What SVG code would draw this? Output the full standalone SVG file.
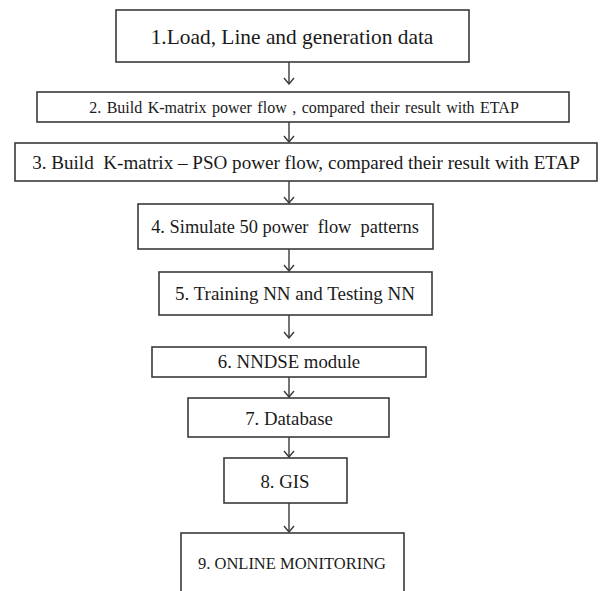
<svg xmlns="http://www.w3.org/2000/svg" width="601" height="591" viewBox="0 0 601 591">
  <style>
    .box { fill: #ffffff; stroke: #3a3a3a; stroke-width: 1.6; }
    .lbl { font-family: "Liberation Serif", "Times New Roman", serif; fill: #1a1a1a; text-anchor: middle; }
    .conn { stroke: #3a3a3a; stroke-width: 1.4; fill: none; marker-end: url(#arrow); }
  </style>
  <defs>
    <!-- open V head, drawn pointing along +x so orient="auto" follows the line -->
    <marker id="arrow" viewBox="0 0 12 12" refX="11" refY="6" markerWidth="12" markerHeight="12" markerUnits="userSpaceOnUse" orient="auto">
      <polyline points="5,1 11,6 5,11" fill="none" stroke="#3a3a3a" stroke-width="1.4"/>
    </marker>
  </defs>
  <rect width="601" height="591" fill="#ffffff"/>

  <g id="connectors">
    <line class="conn" x1="289" y1="62" x2="289" y2="84"/>
    <line class="conn" x1="289" y1="122" x2="289" y2="142"/>
    <line class="conn" x1="289" y1="181" x2="289" y2="203"/>
    <line class="conn" x1="289" y1="249" x2="289" y2="271"/>
    <line class="conn" x1="289" y1="315" x2="289" y2="338"/>
    <line class="conn" x1="289" y1="377" x2="289" y2="397"/>
    <line class="conn" x1="289" y1="437" x2="289" y2="457"/>
    <line class="conn" x1="289" y1="503" x2="289" y2="532"/>
  </g>

  <g id="n1">
    <rect class="box" x="116" y="10" width="353" height="52"/>
    <text class="lbl" x="292" y="44" font-size="21.4">1.Load, Line and generation data</text>
  </g>
  <g id="n2">
    <rect class="box" x="37" y="92" width="532" height="30"/>
    <text class="lbl" x="304" y="112.5" font-size="16" word-spacing="1.5">2. Build K-matrix power flow , compared their result with ETAP</text>
  </g>
  <g id="n3">
    <rect class="box" x="15" y="143" width="582" height="38"/>
    <text class="lbl" x="306" y="169" font-size="19.1" xml:space="preserve">3. Build  K-matrix – PSO power flow, compared their result with ETAP</text>
  </g>
  <g id="n4">
    <rect class="box" x="138" y="204" width="295" height="45"/>
    <text class="lbl" x="285" y="233" font-size="18.4" xml:space="preserve">4. Simulate 50 power  flow  patterns</text>
  </g>
  <g id="n5">
    <rect class="box" x="159" y="272" width="273" height="43"/>
    <text class="lbl" x="295" y="300" font-size="19">5. Training NN and Testing NN</text>
  </g>
  <g id="n6">
    <rect class="box" x="152" y="347" width="274" height="30"/>
    <text class="lbl" x="289" y="368" font-size="18.8">6. NNDSE module</text>
  </g>
  <g id="n7">
    <rect class="box" x="188" y="398" width="201" height="39"/>
    <text class="lbl" x="289" y="425" font-size="18.8">7. Database</text>
  </g>
  <g id="n8">
    <rect class="box" x="224" y="458" width="123" height="45"/>
    <text class="lbl" x="285" y="488" font-size="18.8">8. GIS</text>
  </g>
  <g id="n9">
    <rect class="box" x="181" y="533" width="223" height="70"/>
    <text class="lbl" x="292" y="569" font-size="16.5">9. ONLINE MONITORING</text>
  </g>
</svg>
